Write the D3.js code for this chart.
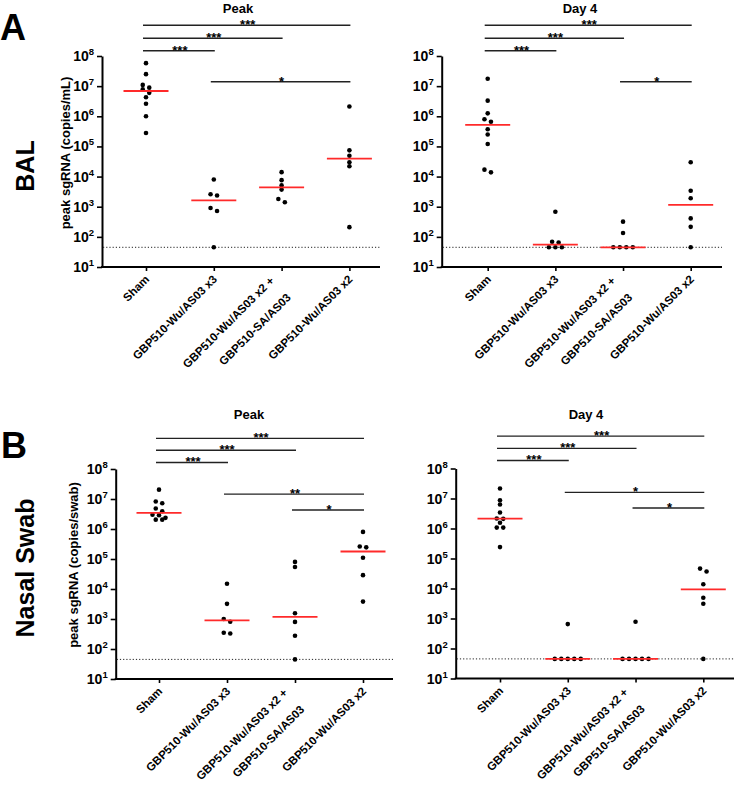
<!DOCTYPE html>
<html><head><meta charset="utf-8">
<script src="https://cdn.jsdelivr.net/npm/d3@7"></script>
<style>
body{margin:0;background:#fff}
text{font-family:"Liberation Sans",Arial,sans-serif;font-weight:bold;fill:#000}
</style>
</head><body><svg id="c" width="750" height="785"></svg>
<script>
// ---------- data ----------
const groups = [["Sham"],["GBP510-Wu/AS03 x3"],["GBP510-Wu/AS03 x2 +","GBP510-SA/AS03"],["GBP510-Wu/AS03 x2"]];
const yExponents = [1,2,3,4,5,6,7,8];
const lod = 45;

const balPeak = [
  [5.8e7,2.5e7,1.1e7,8.9e6,7.8e6,6.0e6,4.3e6,2.6e6,1.0e6,2.8e5],
  [8000,2600,2350,910,720,45],
  [14000,7600,5100,3700,1800,1400],
  [2.1e6,74000,49000,30000,22000,210]];
const balDay4 = [
  [1.75e7,3.3e6,1.25e6,8.0e5,6.6e5,3.7e5,2.5e5,1.2e5,17000,13800],
  [680,69,65,45,45,45],
  [320,135,45,45,45,45],
  [30000,3400,1900,410,215,45]];
const nasalPeak = [
  [2.05e7,8.3e6,7.2e6,4.8e6,3.9e6,3.0e6,2.9e6,2.35e6,2.05e6,2.05e6],
  [15000,3200,1000,810,350,330],
  [80000,54000,1550,800,275,45],
  [8.0e5,2.6e5,2.45e5,1.1e5,29000,3800]];
const nasalDay4 = [
  [2.15e7,8.7e6,6.3e6,3.4e6,2.15e6,2.1e6,1.55e6,1.07e6,1.07e6,2.4e5],
  [650,45,45,45,45,45],
  [780,45,45,45,45,45],
  [46000,37000,13800,4900,3100,45]];

// significance: [from group, to group, label, bar height (copies)]
const balPeakSig = [[0,3,"***",1.05e9],[0,2,"***",3.9e8],[0,1,"***",1.5e8],[1,3,"*",1.4e7]];
const balDay4Sig = [[0,3,"***",1.05e9],[0,2,"***",3.9e8],[0,1,"***",1.5e8],[2,3,"*",1.4e7]];
const nasalPeakSig = [[0,3,"***",1.05e9],[0,2,"***",4.2e8],[0,1,"***",1.65e8],[1,3,"**",1.45e7],[2,3,"*",4.3e6]];
const nasalDay4Sig = [[0,3,"***",1.2e9],[0,2,"***",4.7e8],[0,1,"***",1.85e8],[1,3,"*",1.6e7],[2,3,"*",4.8e6]];

// ---------- drawing ----------
const svg = d3.select("#c");

function swarm(values, y, cx, spacing, thr){
  const pts = values.map(v => ({v, py: y(v)})).sort((a,b) => a.py - b.py);
  const rows = [];
  pts.forEach(p => {
    const r = rows[rows.length-1];
    if (r && p.py - r[0].py < thr) r.push(p); else rows.push([p]);
  });
  rows.forEach(r => r.forEach((p,i) => p.px = cx + (i - (r.length-1)/2) * spacing));
  return pts;
}

function panel(cfg, data, sig, title, yLabel){
  const g = svg.append("g");
  const y = d3.scaleLog().domain([1e1,1e8]).range([cfg.yBot, cfg.yTop]);
  const x = d3.scalePoint().domain(d3.range(groups.length)).range([cfg.firstCat, cfg.lastCat]);

  // y axis
  const ya = g.append("g").attr("transform",`translate(${cfg.axisX},0)`)
    .call(d3.axisLeft(y).tickValues(yExponents.map(e => 10**e)).tickFormat("").tickSize(5).tickSizeOuter(0));
  ya.select(".domain").attr("stroke","#000").attr("stroke-width",2);
  ya.selectAll(".tick line").attr("stroke","#000").attr("stroke-width",1.6);
  yExponents.forEach(e => {
    const t = g.append("text").attr("x", cfg.axisX-8).attr("y", y(10**e)+5).attr("text-anchor","end");
    t.append("tspan").attr("font-size",14).text("10");
    t.append("tspan").attr("font-size",9.5).attr("dy",-6).text(e);
  });

  // x axis
  const xa = g.append("g").attr("transform",`translate(0,${cfg.yBot})`)
    .call(d3.axisBottom(x).tickFormat("").tickSize(4).tickSizeOuter(0));
  xa.select(".domain").remove();
  xa.selectAll(".tick line").attr("stroke","#000").attr("stroke-width",1.6);
  g.append("line").attr("x1",cfg.axisX-1).attr("x2",cfg.axisEnd).attr("y1",cfg.yBot).attr("y2",cfg.yBot)
    .attr("stroke","#000").attr("stroke-width",2);

  // category labels (rotated 45°)
  groups.forEach((lines,i) => {
    const t = g.append("g").attr("transform",`translate(${x(i)+4},${cfg.yBot+13}) rotate(-45)`);
    const n = lines.length, lh = 23.7;
    lines.forEach((s,k) => {
      t.append("text").attr("text-anchor","end").attr("font-size",11.5)
        .attr("x", n > 1 ? -8.6 : 0)
        .attr("y", n > 1 ? (k-(n-1)/2)*lh + 5.3 : 0)
        .text(s);
    });
  });

  // LOD line
  g.append("line").attr("x1",cfg.axisX+1).attr("x2",cfg.axisEnd).attr("y1",y(lod)).attr("y2",y(lod))
    .attr("stroke","#222").attr("stroke-width",1).attr("stroke-dasharray","1.2,2");

  // points and medians
  data.forEach((vals,i) => {
    const pts = swarm(vals, y, x(i), 6.5, 4);
    g.selectAll(null).data(pts).enter().append("circle")
      .attr("cx",d => d.px).attr("cy",d => d.py).attr("r",2.3).attr("fill","#000");
    const med = d3.median(vals);
    g.append("line").attr("x1",x(i)-22.5).attr("x2",x(i)+22.5).attr("y1",y(med)).attr("y2",y(med))
      .attr("stroke","#ff2a2a").attr("stroke-width",1.8);
  });

  // significance bars
  sig.forEach(([a,b,lab,h]) => {
    const yy = y(h);
    g.append("line").attr("x1",x(a)-3).attr("x2",x(b)+1).attr("y1",yy).attr("y2",yy)
      .attr("stroke","#222").attr("stroke-width",1.4);
    g.append("text").attr("x",(x(a)+x(b))/2).attr("y",yy+4).attr("text-anchor","middle")
      .attr("font-size",13).attr("font-weight","normal").text(lab);
  });

  // title
  g.append("text").attr("x",cfg.titleX).attr("y",cfg.titleY).attr("text-anchor","middle")
    .attr("font-size",13).text(title);

  if (yLabel){
    g.append("text").attr("transform",`translate(${cfg.labelX},${cfg.labelY}) rotate(-90)`)
      .attr("text-anchor","middle").attr("font-size",13).text(yLabel);
  }
}

panel({axisX:102, axisEnd:380, yTop:56, yBot:267, firstCat:146, lastCat:349.4, titleX:238, titleY:13, labelX:70, labelY:153},
  balPeak, balPeakSig, "Peak", "peak sgRNA (copies/mL)");
panel({axisX:441.7, axisEnd:722, yTop:56, yBot:267, firstCat:487.7, lastCat:690.7, titleX:580, titleY:13},
  balDay4, balDay4Sig, "Day 4", null);
panel({axisX:115.7, axisEnd:393, yTop:469, yBot:679, firstCat:159, lastCat:363, titleX:249, titleY:419, labelX:78, labelY:565},
  nasalPeak, nasalPeakSig, "Peak", "peak sgRNA (copies/swab)");
panel({axisX:455.7, axisEnd:734, yTop:468.5, yBot:678.5, firstCat:500, lastCat:703.3, titleX:586, titleY:419},
  nasalDay4, nasalDay4Sig, "Day 4", null);

// row labels
svg.append("text").attr("x",0).attr("y",40).attr("font-size",36).text("A");
svg.append("text").attr("x",1).attr("y",458).attr("font-size",36).text("B");
svg.append("text").attr("transform","translate(34,166) rotate(-90)").attr("text-anchor","middle")
  .attr("font-size",25).text("BAL");
svg.append("text").attr("transform","translate(34,568) rotate(-90)").attr("text-anchor","middle")
  .attr("font-size",25).text("Nasal Swab");
</script>
</body></html>
